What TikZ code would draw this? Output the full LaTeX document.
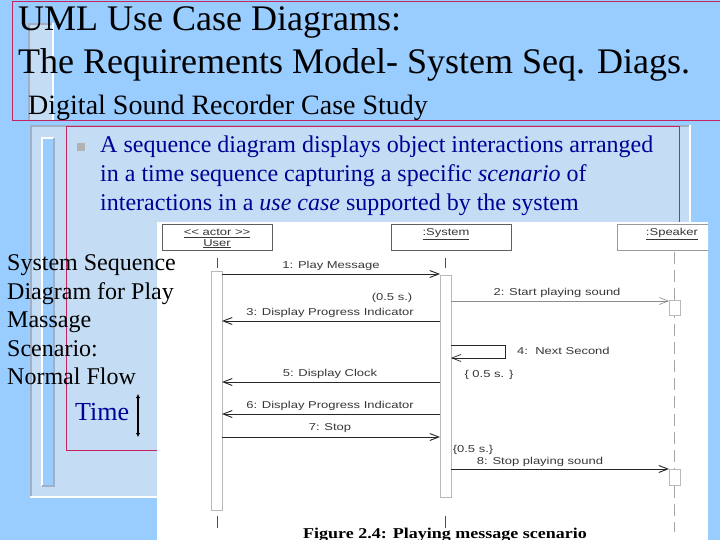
\documentclass[tikz,border=0pt]{standalone}
\usepackage{fontspec}
\usepackage{graphicx}
\setmainfont{Liberation Serif}
\newfontfamily\seqfont{Liberation Sans}
\usetikzlibrary{arrows.meta}
\definecolor{bgblue}{RGB}{153,204,255}
\definecolor{panelblue}{RGB}{197,221,244}
\definecolor{framered}{RGB}{196,36,96}
\definecolor{navy}{RGB}{0,0,150}
\definecolor{edgegray}{RGB}{160,175,195}
\definecolor{seqink}{RGB}{55,55,55}
\definecolor{actgray}{RGB}{185,185,185}
\newcommand{\seqtxt}[1]{{\seqfont\fontsize{10}{12}\selectfont\scalebox{1.3}[1]{#1}}}
\begin{document}
\begin{tikzpicture}[x=1pt,y=-1pt,
  titletext/.style={anchor=base west,inner sep=0pt,font=\fontsize{36}{40}\selectfont},
  subtitle/.style={anchor=base west,inner sep=0pt,font=\fontsize{28}{32}\selectfont},
  bullettext/.style={anchor=base west,inner sep=0pt,text=navy,font=\fontsize{24}{29}\selectfont},
  sidetext/.style={anchor=base west,inner sep=0pt,font=\fontsize{24}{29}\selectfont},
  lifebox/.style={draw=seqink!80,line width=0.7pt,fill=white,inner sep=0pt,anchor=north west},
  actbar/.style={draw=actgray,line width=0.8pt,fill=white},
  msg/.style={draw=black!85,line width=0.9pt,-{Straight Barb[length=9pt,width=7pt]}},
  msglight/.style={draw=black!45,line width=0.6pt,-{Straight Barb[length=9pt,width=7pt]}},
  msglabel/.style={anchor=base,inner sep=0pt,text=seqink},
  lifeline/.style={draw=black!70,line width=0.7pt},
  ]
\useasboundingbox (0,0) rectangle (720,540);
\fill[bgblue] (0,0) rectangle (720,540);
% title decoration bar
\fill[panelblue] (28,23) rectangle (54,120);
\draw[edgegray,line width=2pt] (29,120) -- (29,24) -- (53,24);
\draw[white,line width=1.5pt] (53,23) -- (53,120);
% title frame
\draw[framered,line width=0.8pt] (721,1) -- (12,1) -- (12,120) -- (721,120);
% panel
\fill[panelblue] (30,125) rectangle (690,497);
\draw[edgegray,line width=2.5pt] (31,497) -- (31,126) -- (689,126);
\draw[white,line width=2pt] (30,497) -- (690,497) -- (690,125);
% inner bar
\fill[bgblue] (41,137) rectangle (54,486);
\draw[white,line width=1.5pt] (42,486) -- (42,138) -- (54,138);
\draw[edgegray,line width=1.5pt] (42,486) -- (54,486) -- (54,138);
% red inner frame
\draw[framered,line width=0.8pt] (66,126) rectangle (679,450);
% bullet
\fill[black!30] (77,143) rectangle (85,151);
\node[bullettext] (b1) at (100,153) {A sequence diagram displays object interactions arranged};
\node[bullettext] (b2) at (100,182) {in a time sequence capturing a specific \textit{scenario} of};
\node[bullettext] (b3) at (100,211) {interactions in a \textit{use case} supported by the system};
% white figure
\fill[white] (157,222) rectangle (708,540);
\begin{scope}
\clip (157,222) rectangle (708,540);
% lifeline heads
\node[lifebox,minimum width=110,minimum height=26] (user) at (162,224) {};
\node[lifebox,minimum width=120,minimum height=26] (system) at (391,224) {};
\node[lifebox,draw=black!40,minimum width=120,minimum height=26] (speaker) at (617,224) {};
\node[msglabel] (usert1) at (217,236) {\seqtxt{\underline{\textless\textless\ actor \textgreater\textgreater}}};
\node[msglabel] (usert2) at (217,246) {\seqtxt{\underline{User}}};
\node[msglabel] (syst) at (446,236) {\seqtxt{\underline{:System}}};
\node[msglabel] (spkt) at (672,236) {\seqtxt{\underline{:Speaker}}};
% lifelines
\draw[lifeline] (217,258) -- (217,268);
\draw[lifeline] (217,516) -- (217,528);
\draw[lifeline] (445,258) -- (445,268);
\draw[lifeline] (445,516) -- (445,528);
\draw[draw=black!35,line width=0.6pt,dash pattern=on 12pt off 6pt] (674,252) -- (674,532);
% activation bars
\draw[actbar] (211,271) rectangle (222,510);
\draw[actbar] (440,275) rectangle (451,497);
\draw[actbar] (669,300) rectangle (680,315);
\draw[actbar] (669,469) rectangle (680,485);
% message end points
\coordinate (m1a) at (222,274); \coordinate (m1b) at (440,274);
\coordinate (m2a) at (451,301); \coordinate (m2b) at (669,301);
\coordinate (m3a) at (440,321); \coordinate (m3b) at (222,321);
\coordinate (m4a) at (451,345); \coordinate (m4c) at (505,345);
\coordinate (m4d) at (505,358); \coordinate (m4b) at (451,358);
\coordinate (m5a) at (440,382); \coordinate (m5b) at (222,382);
\coordinate (m6a) at (440,414); \coordinate (m6b) at (222,414);
\coordinate (m7a) at (222,437); \coordinate (m7b) at (440,437);
\coordinate (m8a) at (451,469); \coordinate (m8b) at (669,469);
\draw[msg] (m1a) -- (m1b);
\draw[msglight] (m2a) -- (m2b);
\draw[msg] (m3a) -- (m3b);
\draw[msg,line width=0.7pt] (m4a) -- (m4c) -- (m4d) -- (m4b);
\draw[msg] (m5a) -- (m5b);
\draw[msg] (m6a) -- (m6b);
\draw[msg] (m7a) -- (m7b);
\draw[msg] (m8a) -- (m8b);
% message labels
\node[msglabel] (l1) at (331,268) {\seqtxt{1: Play Message}};
\node[msglabel] (t1) at (392,300) {\seqtxt{(0.5 s.)}};
\node[msglabel] (l2) at (557,295) {\seqtxt{2: Start playing sound}};
\node[msglabel] (l3) at (330,315) {\seqtxt{3: Display Progress Indicator}};
\node[msglabel,anchor=base west] (l4) at (517,354) {\seqtxt{4:\ \ Next Second}};
\node[msglabel] (l5) at (330,376) {\seqtxt{5: Display Clock}};
\node[msglabel] (t2) at (489,377) {\seqtxt{\{ 0.5 s. \}}};
\node[msglabel] (l6) at (330,408) {\seqtxt{6: Display Progress Indicator}};
\node[msglabel] (l7) at (330,430) {\seqtxt{7: Stop}};
\node[msglabel] (t3) at (473,452) {\seqtxt{\{0.5 s.\}}};
\node[msglabel] (l8) at (540,464) {\seqtxt{8: Stop playing sound}};
\node[anchor=base,inner sep=0pt,font=\fontsize{15}{18}\selectfont\bfseries] (cap) at (445,538) {\scalebox{1.2}[1]{Figure 2.4: Playing message scenario}};
\end{scope}
% side text
\node[sidetext] (s1) at (7,270) {System Sequence};
\node[sidetext] (s2) at (7,299) {Diagram for Play};
\node[sidetext] (s3) at (7,327) {Massage};
\node[sidetext] (s4) at (7,356) {Scenario:};
\node[sidetext] (s5) at (7,384) {Normal Flow};
\node[anchor=base west,inner sep=0pt,text=navy,font=\fontsize{26}{30}\selectfont] (time) at (75,420) {Time};
\coordinate (tt) at (138,394);
\coordinate (tb) at (138,437);
\draw[line width=1.6pt,{Latex[length=4pt,width=4.5pt]}-{Latex[length=4pt,width=4.5pt]}] (tt) -- (tb);
% titles
\node[titletext] (ti1) at (18,31) {UML Use Case Diagrams:};
\node[titletext] (ti2) at (18,74) {The Requirements Model- System Seq. Diags.};
\node[subtitle] (ti3) at (28,115) {Digital Sound Recorder Case Study};
\end{tikzpicture}
\end{document}
